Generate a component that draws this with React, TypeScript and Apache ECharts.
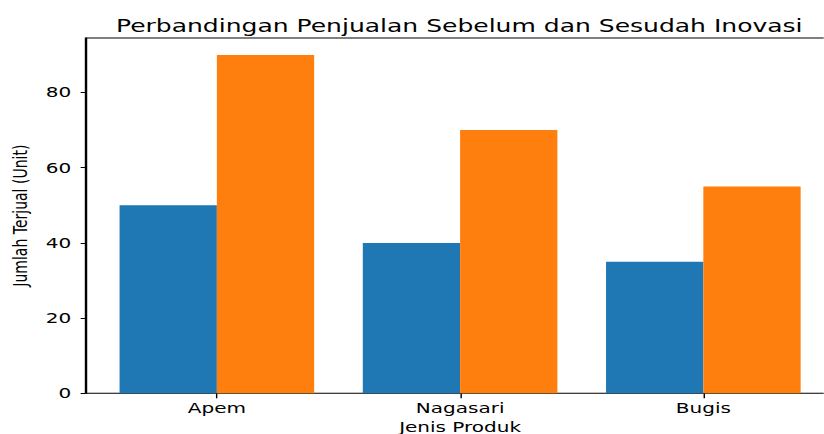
import React, { useEffect, useRef } from "react";
import * as echarts from "echarts";

const categories = ["Apem", "Nagasari", "Bugis"];
const seriesNames = ["Sebelum Inovasi", "Sesudah Inovasi"];
const sebelum = [50, 40, 35];
const sesudah = [90, 70, 55];
const yTicks = [0, 20, 40, 60, 80];
const yMax = 94.5;

const titleText = "Perbandingan Penjualan Sebelum dan Sesudah Inovasi";
const xName = "Jenis Produk";
const yName = "Jumlah Terjual (Unit)";

// The reference picture is horizontally stretched; draw at a narrower width and scale.
const SX = 1.43;
const W = 824 / SX;
const H = 434;
const FONT = "DejaVu Sans";

export default function App() {
  const ref = useRef<HTMLDivElement>(null);
  useEffect(() => {
    if (!ref.current) return;
    const chart = echarts.init(ref.current, null, { renderer: "svg" });
    const frameLeft = 59.8;
    const frameRight = 583.7;
    const span = frameRight - frameLeft;
    const band = span / 3.08;
    const barLeft = frameLeft + 0.04 * band;
    const barWidthTotal = band * 3;
    const top = 38;
    const bottom = H - 393.3;
    chart.setOption({
      animation: false,
      backgroundColor: "#ffffff",
      textStyle: { fontFamily: FONT },
      title: {
        text: titleText,
        left: (frameLeft + frameRight) / 2 - 5.6,
        top: 12,
        textAlign: "center",
        textStyle: { fontFamily: FONT, fontSize: 17.5, fontWeight: "normal", color: "#000" },
      },
      grid: [
        {
          left: barLeft,
          width: barWidthTotal,
          top,
          bottom,
          containLabel: false,
          outerBoundsMode: "none",
        },
        {
          left: frameLeft,
          width: span,
          top,
          bottom,
          show: true,
          borderColor: "#000",
          borderWidth: 1,
          backgroundColor: "transparent",
          containLabel: false,
          outerBoundsMode: "none",
        },
      ],
      xAxis: [
        {
          type: "category",
          gridIndex: 0,
          data: categories,
          axisLine: { show: false },
          axisTick: { show: true, alignWithLabel: true, length: 5, lineStyle: { color: "#000", width: 1 } },
          axisLabel: { margin: 8, fontSize: 14, color: "#000", fontFamily: FONT },
          name: xName,
          nameLocation: "middle",
          nameGap: 26,
          nameTextStyle: { fontSize: 14, color: "#000", fontFamily: FONT },
          splitLine: { show: false },
        },
        { type: "value", gridIndex: 1, min: 0, max: 1, show: false },
      ],
      yAxis: [
        { type: "value", gridIndex: 0, min: 0, max: yMax, show: false, splitLine: { show: false } },
        {
          type: "value",
          gridIndex: 1,
          min: 0,
          max: yMax,
          axisLine: { show: true, lineStyle: { color: "#000", width: 1 } },
          axisTick: { show: true, length: 3.4, customValues: yTicks, lineStyle: { color: "#000", width: 1 } },
          axisLabel: { customValues: yTicks, margin: 10, fontSize: 14, color: "#000", fontFamily: FONT },
          splitLine: { show: false },
          name: yName,
          nameLocation: "middle",
          nameGap: 36,
          nameTextStyle: { fontSize: 14, color: "#000", fontFamily: FONT },
        },
      ],
      series: [
        {
          name: seriesNames[0],
          type: "bar",
          xAxisIndex: 0,
          yAxisIndex: 0,
          data: sebelum,
          itemStyle: { color: "#1f77b4" },
          barGap: "0%",
          barCategoryGap: "20%",
        },
        {
          name: seriesNames[1],
          type: "bar",
          xAxisIndex: 0,
          yAxisIndex: 0,
          data: sesudah,
          itemStyle: { color: "#ff7f0e" },
          barGap: "0%",
          barCategoryGap: "20%",
        },
      ],
    });
    return () => chart.dispose();
  }, []);
  return (
    <div
      style={{
        position: "absolute",
        left: 0,
        top: 0,
        width: 824,
        height: H,
        overflow: "hidden",
        background: "#fff",
      }}
    >
      <div
        ref={ref}
        style={{
          width: W,
          height: H,
          transform: `scaleX(${SX})`,
          transformOrigin: "0 0",
        }}
      />
    </div>
  );
}
